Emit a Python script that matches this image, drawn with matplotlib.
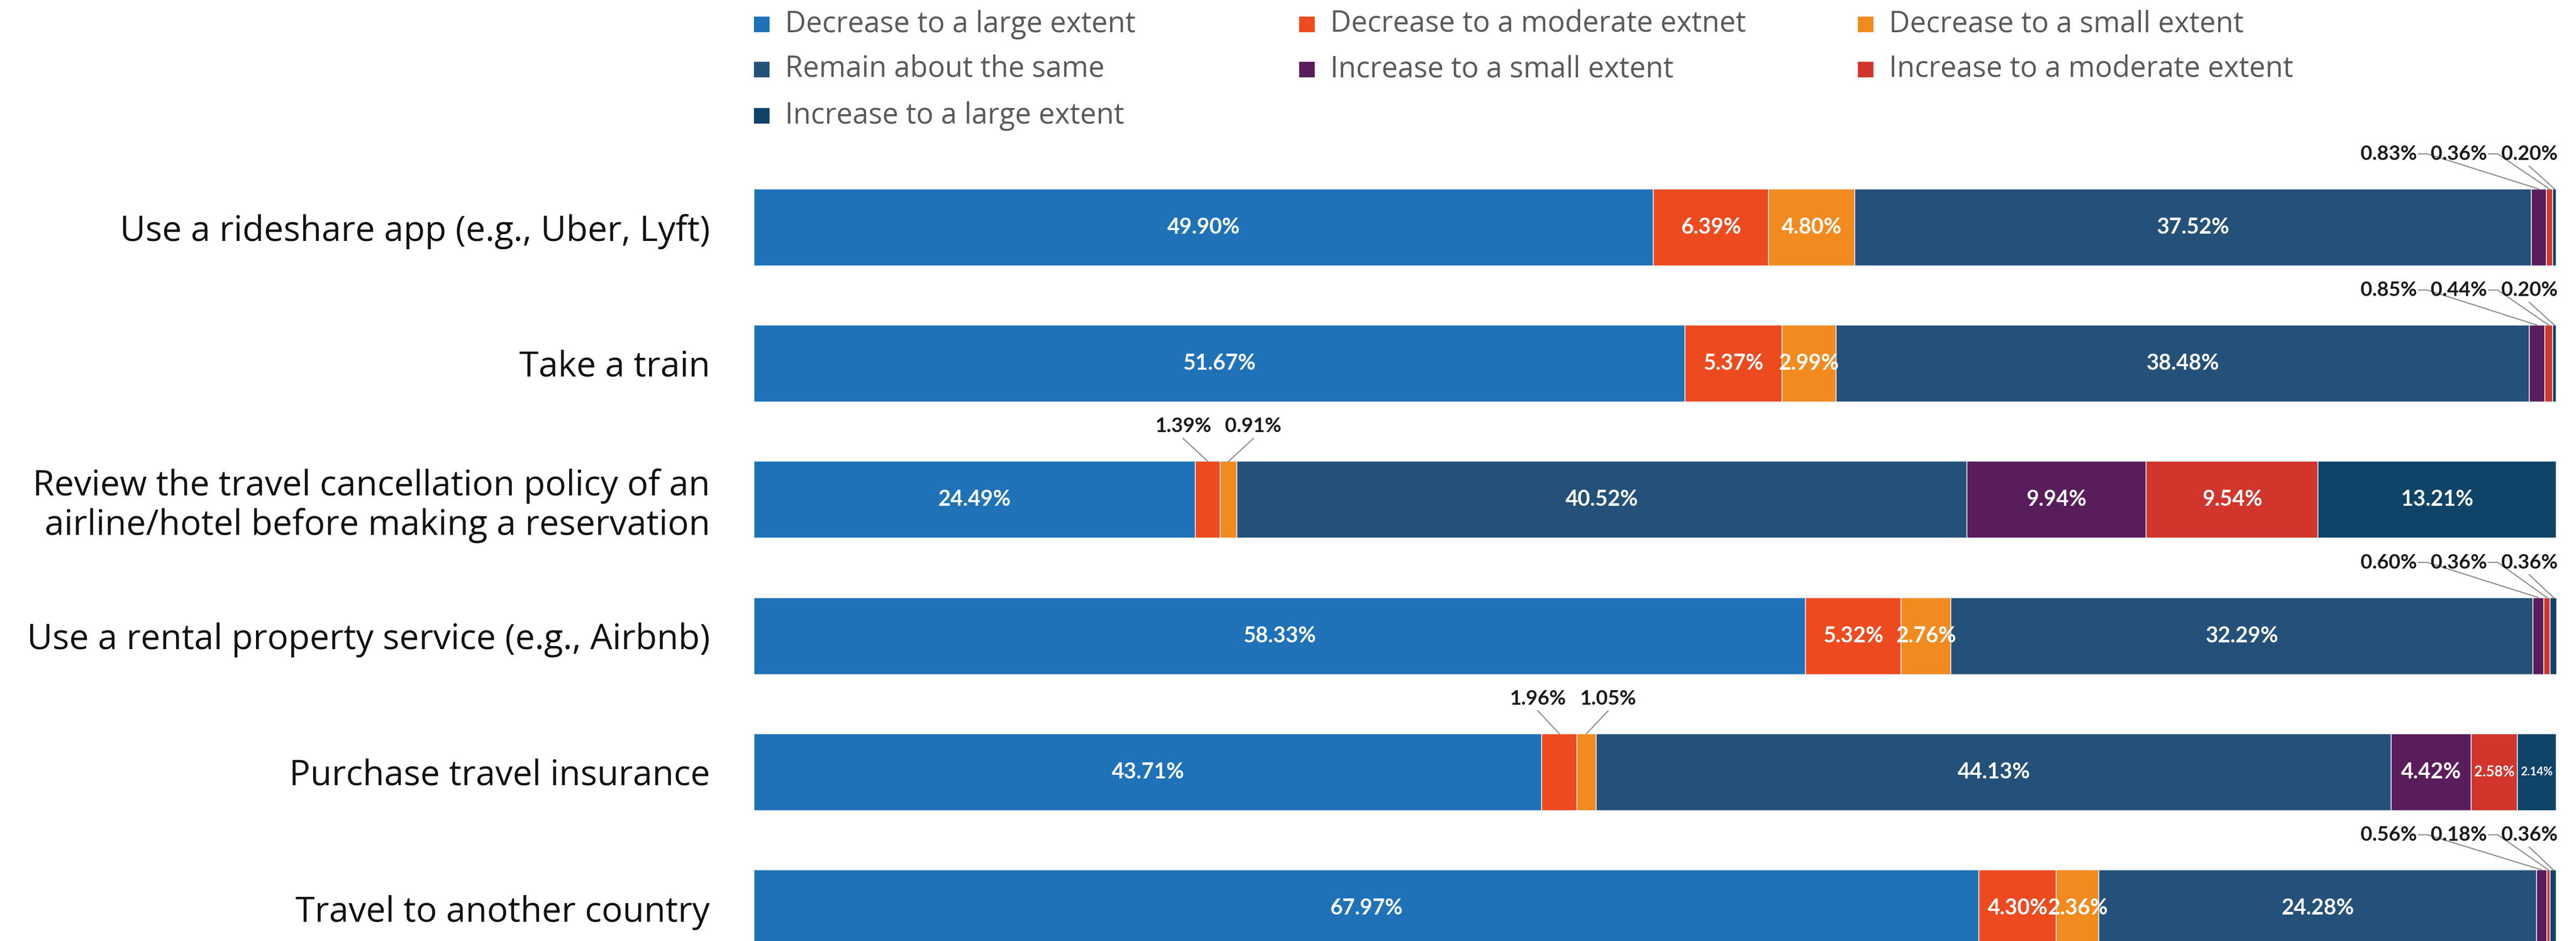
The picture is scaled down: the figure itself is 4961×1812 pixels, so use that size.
import matplotlib.pyplot as plt
from matplotlib.patches import Rectangle

categories = [
    "Use a rideshare app (e.g., Uber, Lyft)",
    "Take a train",
    "Review the travel cancellation policy of an\nairline/hotel before making a reservation",
    "Use a rental property service (e.g., Airbnb)",
    "Purchase travel insurance",
    "Travel to another country",
]
series_names = [
    "Decrease to a large extent",
    "Decrease to a moderate extnet",
    "Decrease to a small extent",
    "Remain about the same",
    "Increase to a small extent",
    "Increase to a moderate extent",
    "Increase to a large extent",
]
dec_large = [49.90, 51.67, 24.49, 58.33, 43.71, 67.97]
dec_moderate = [6.39, 5.37, 1.39, 5.32, 1.96, 4.30]
dec_small = [4.80, 2.99, 0.91, 2.76, 1.05, 2.36]
same = [37.52, 38.48, 40.52, 32.29, 44.13, 24.28]
inc_small = [0.83, 0.85, 9.94, 0.60, 4.42, 0.56]
inc_moderate = [0.36, 0.44, 9.54, 0.36, 2.58, 0.18]
inc_large = [0.20, 0.20, 13.21, 0.36, 2.14, 0.36]

series = [dec_large, dec_moderate, dec_small, same, inc_small, inc_moderate, inc_large]
colors = ["#1f72b8", "#ee4a1f", "#f28b1f", "#245179", "#5a1d5c", "#d1352c", "#0f4368"]

# a few narrow segments use a smaller in-bar label
label_size_override = {(4, 5): 20, (4, 6): 16}

W, H = 4961, 1812
fig = plt.figure(figsize=(W / 100, H / 100), dpi=100)
fig.patch.set_facecolor("white")

ax = fig.add_axes([1452 / W, 0, (4923 - 1452) / W, 1])
ax.set_xlim(0, 100)
ax.set_ylim(5.24, -1.67)
for s in ax.spines.values():
    s.set_visible(False)
ax.set_xticks([])

bar_h = 0.565
ypos = list(range(len(categories)))
left = [0.0] * len(categories)
outside = {i: [] for i in ypos}

for k, (vals, col) in enumerate(zip(series, colors)):
    ax.barh(ypos, vals, left=left, height=bar_h, color=col,
            edgecolor="#e8eef5", linewidth=1.2)
    for i, v in enumerate(vals):
        c = left[i] + v / 2
        if v >= 2:
            fs = label_size_override.get((i, k), 30)
            ax.text(c, i, f"{v:.2f}%", ha="center", va="center", color="white",
                    fontsize=fs, fontfamily="Lato", fontweight="bold")
        else:
            outside[i].append((c, v))
        left[i] += v

# small values sit above the bar with leader lines
spacing = 3.9
half_w = 1.55
for i, items in outside.items():
    if not items:
        continue
    n = len(items)
    mid = sum(c for c, _ in items) / n
    xs = [mid + (j - (n - 1) / 2) * spacing for j in range(n)]
    if xs[-1] > 98.5:
        shift = xs[-1] - 98.5
        xs = [x - shift for x in xs]
    ly = i - 0.54
    top = i - bar_h / 2
    for (c, v), lx in zip(items, xs):
        ax.text(lx, ly, f"{v:.2f}%", ha="center", va="center", color="#1a1a1a",
                fontsize=28, fontfamily="Lato", fontweight="bold")
        if lx + half_w < c - 0.3:
            ax.plot([lx + half_w + 0.1, lx + half_w + 0.6, c], [ly, ly, top],
                    color="#8c8c8c", lw=1.6, clip_on=False)
        else:
            ax.plot([lx, c], [ly + 0.09, top], color="#8c8c8c", lw=1.6, clip_on=False)

ax.set_yticks(ypos)
ax.set_yticklabels(categories, fontsize=48.5, fontfamily="Open Sans",
                   color="#111111", linespacing=1.15)
ax.tick_params(axis="y", length=0, pad=61)

# legend laid out row by row in three columns
col_x = [1452, 2502, 3578]
row_y = [47, 134, 223]
sq = 30
for k, (name, col) in enumerate(zip(series_names, colors)):
    r, c = divmod(k, 3)
    x0, yc = col_x[c], row_y[r]
    fig.patches.append(Rectangle((x0 / W, 1 - (yc + sq / 2) / H), sq / W, sq / H,
                                 transform=fig.transFigure, facecolor=col,
                                 edgecolor="none"))
    fig.text((x0 + 60) / W, 1 - yc / H, name, ha="left", va="center",
             fontsize=40, fontfamily="Open Sans", color="#595959")

fig.savefig("out.png", dpi=100, facecolor="white")
